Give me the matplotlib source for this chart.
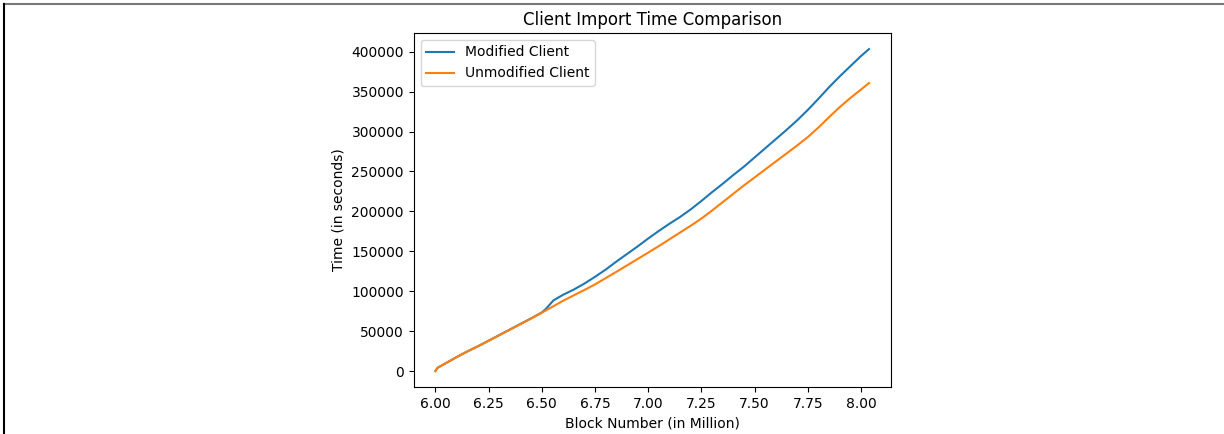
import matplotlib
matplotlib.use("Agg")
import matplotlib.pyplot as plt
from matplotlib.lines import Line2D

# block numbers (in million) and cumulative import time (seconds)
mod_blocks = [6.00, 6.01, 6.05, 6.10, 6.15, 6.20, 6.25, 6.30, 6.35, 6.40, 6.45, 6.50,
              6.52, 6.555, 6.60, 6.65, 6.70, 6.75, 6.80, 6.85, 6.90, 6.95, 7.00,
              7.05, 7.10, 7.15, 7.20, 7.25, 7.30, 7.35, 7.40, 7.45, 7.50, 7.55,
              7.60, 7.65, 7.70, 7.75, 7.80, 7.85, 7.90, 7.95, 8.00, 8.038]
mod_time = [0, 4000, 10000, 17500, 24500, 31000, 38000, 45000, 52000, 59000, 66000, 73300,
            78000, 88500, 95500, 102000, 109500, 118000, 127000, 137000, 146500, 156000, 166000,
            175500, 184500, 193000, 202500, 213000, 224000, 234500, 245500, 256000, 267500, 279000,
            290500, 302000, 314000, 327000, 341000, 355500, 369000, 381800, 394500, 403300]

unmod_blocks = [6.00, 6.01, 6.05, 6.10, 6.15, 6.20, 6.25, 6.30, 6.35, 6.40, 6.45, 6.50,
                6.55, 6.60, 6.65, 6.70, 6.75, 6.80, 6.85, 6.90, 6.95, 7.00,
                7.05, 7.10, 7.15, 7.20, 7.25, 7.30, 7.35, 7.40, 7.45, 7.50, 7.55,
                7.60, 7.65, 7.70, 7.75, 7.80, 7.85, 7.90, 7.95, 8.00, 8.038]
unmod_time = [0, 4000, 10000, 17500, 24500, 31000, 37800, 44800, 51800, 58800, 65800, 73000,
              80500, 88000, 94800, 101500, 108500, 116300, 124200, 132200, 140300, 148300,
              156500, 165000, 173500, 182000, 191000, 201000, 211500, 222000, 232500, 242500, 252500,
              262500, 272500, 282500, 293000, 305000, 318000, 330500, 342000, 352500, 360800]

fig = plt.figure(figsize=(12.24, 4.34), dpi=100)
ax = fig.add_axes([0.338, 0.108, 0.3897, 0.816])

ax.plot(mod_blocks, mod_time, label="Modified Client")
ax.plot(unmod_blocks, unmod_time, label="Unmodified Client")

ax.set_xticks([6.00, 6.25, 6.50, 6.75, 7.00, 7.25, 7.50, 7.75, 8.00])
ax.set_xticklabels(["6.00", "6.25", "6.50", "6.75", "7.00", "7.25", "7.50", "7.75", "8.00"])
ax.set_yticks(range(0, 400001, 50000))

ax.set_title("Client Import Time Comparison", fontsize=12)
ax.set_xlabel("Block Number (in Million)")
ax.set_ylabel("Time (in seconds)")
ax.legend(loc="upper left")

# screenshot border (top and left edge)
fig.add_artist(Line2D([0.0035, 1], [0.991, 0.991], transform=fig.transFigure, color="#777777", lw=1.5))
fig.add_artist(Line2D([0.0035, 0.0035], [0, 0.991], transform=fig.transFigure, color="black", lw=1.5))

plt.savefig("out.png", dpi=100)
